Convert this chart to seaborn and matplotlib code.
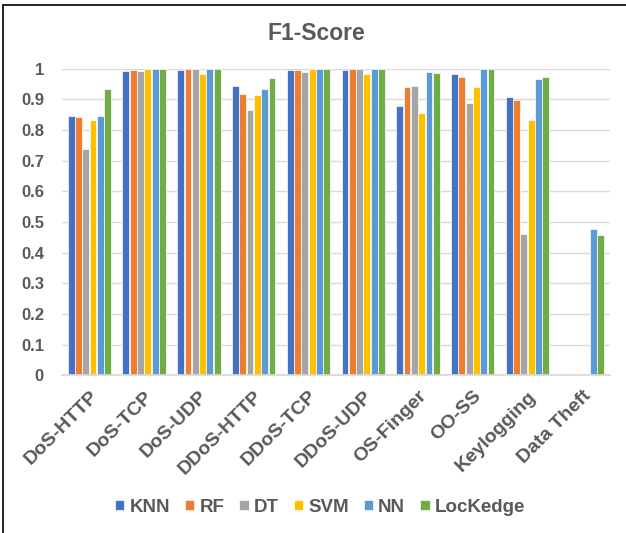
import numpy as np
import pandas as pd
import matplotlib
matplotlib.use("Agg")
import matplotlib.pyplot as plt
import seaborn as sns
from matplotlib.lines import Line2D

categories = ["DoS-HTTP", "DoS-TCP", "DoS-UDP", "DDoS-HTTP", "DDoS-TCP",
              "DDoS-UDP", "OS-Finger", "OO-SS", "Keylogging", "Data Theft"]
models = ["KNN", "RF", "DT", "SVM", "NN", "LocKedge"]
knn = [0.846, 0.993, 0.995, 0.944, 0.995, 0.996, 0.877, 0.983, 0.908, np.nan]
rf = [0.843, 0.995, 1.000, 0.919, 0.995, 1.000, 0.941, 0.973, 0.899, np.nan]
dt = [0.739, 0.992, 1.000, 0.864, 0.988, 1.000, 0.944, 0.889, 0.460, np.nan]
svm = [0.834, 0.999, 0.984, 0.916, 0.999, 0.984, 0.857, 0.942, 0.832, np.nan]
nn = [0.847, 0.999, 1.000, 0.933, 1.000, 1.000, 0.988, 1.000, 0.966, 0.478]
lockedge = [0.934, 0.999, 1.000, 0.970, 1.000, 1.000, 0.986, 1.000, 0.972, 0.458]
yticks = [0, 0.1, 0.2, 0.3, 0.4, 0.5, 0.6, 0.7, 0.8, 0.9, 1]
ytick_labels = ["0", "0.1", "0.2", "0.3", "0.4", "0.5", "0.6", "0.7", "0.8", "0.9", "1"]
colors = ["#4472C4", "#ED7D31", "#A5A5A5", "#FFC000", "#5B9BD5", "#70AD47"]

series = [knn, rf, dt, svm, nn, lockedge]
rows = []
for m, vals in zip(models, series):
    for c, v in zip(categories, vals):
        rows.append({"Attack": c, "Model": m, "F1": v})
df = pd.DataFrame(rows)

sns.set_theme(style="white")
plt.rcParams["font.family"] = ["Liberation Sans", "DejaVu Sans"]
text_color = "#595959"

fig = plt.figure(figsize=(6.26, 5.33), dpi=100)
ax = fig.add_axes([0.099, 0.296, 0.875, 0.575])

sns.barplot(data=df, x="Attack", y="F1", hue="Model", order=categories,
            hue_order=models, palette=colors, saturation=1, width=0.8, gap=0.06,
            edgecolor="white", linewidth=0.5, ax=ax, legend=True)

ax.set_ylim(0, 1)
ax.set_xlim(-0.5, len(categories) - 0.5)
ax.set_yticks(yticks)
ax.set_yticklabels(ytick_labels)
ax.yaxis.grid(True, color="#D9D9D9", linewidth=1)
ax.set_axisbelow(True)
for s in ["top", "right", "left"]:
    ax.spines[s].set_visible(False)
ax.spines["bottom"].set_color("#D9D9D9")
ax.tick_params(axis="both", length=0)
ax.tick_params(axis="y", pad=13)
ax.tick_params(axis="x", pad=9)
ax.set_xlabel("")
ax.set_ylabel("")
for lab in ax.get_yticklabels():
    lab.set_fontsize(12)
    lab.set_fontweight("bold")
    lab.set_color(text_color)
for lab in ax.get_xticklabels():
    lab.set_fontsize(14)
    lab.set_fontweight("bold")
    lab.set_color(text_color)
    lab.set_rotation(45)
    lab.set_ha("right")
    lab.set_rotation_mode("anchor")

fig.text(0.505, 1 - 33 / 533, "F1-Score", fontsize=16.5, fontweight="bold",
         color=text_color, ha="center", va="center")

handles, labels = ax.get_legend_handles_labels()
ax.legend_.remove()
leg = fig.legend(handles, labels, loc="center", bbox_to_anchor=(320 / 626, 1 - 507 / 533),
                 ncol=6, frameon=False, handlelength=0.5, handleheight=0.5,
                 handletextpad=0.27, columnspacing=0.8,
                 prop={"size": 13.5, "weight": "bold"})
for t in leg.get_texts():
    t.set_color(text_color)

# chart outline (top and left edges visible in crop)
fig.add_artist(Line2D([3 / 626, 1], [1 - 5 / 533, 1 - 5 / 533], color="black", lw=1.2,
                      transform=fig.transFigure))
fig.add_artist(Line2D([3 / 626, 3 / 626], [0, 1 - 5 / 533], color="black", lw=1.2,
                      transform=fig.transFigure))

fig.savefig("out.png", dpi=100)
